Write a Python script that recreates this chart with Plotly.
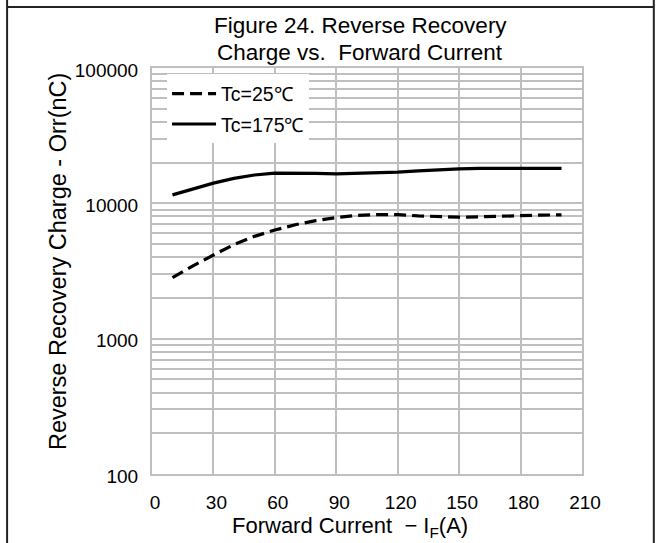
import plotly.graph_objects as go

# Forward current (A)
current_a = [10, 20, 30, 40, 50, 60, 70, 80, 90, 100,
             110, 120, 130, 140, 150, 160, 170, 180, 190, 200]

# Reverse recovery charge Qrr (nC) at Tc = 25 °C
qrr_25c = [2820, 3450, 4150, 4950, 5700, 6350, 6950, 7450, 7850, 8150,
           8270, 8250, 8080, 7950, 7900, 7950, 8050, 8120, 8180, 8220]

# Reverse recovery charge Qrr (nC) at Tc = 175 °C
qrr_175c = [11550, 12800, 14100, 15300, 16200, 16700, 16750, 16650, 16500, 16600,
            16800, 17000, 17400, 17800, 18000, 18100, 18200, 18200, 18150, 18100]

series_names = ["Tc=25℃", "Tc=175℃"]

x_ticks = [0, 30, 60, 90, 120, 150, 180, 210]
y_ticks = [100, 1000, 10000, 100000]
y_tick_labels = ["100", "1000", "10000", "100000"]

FONT = "Arial, 'Liberation Sans', sans-serif"
GRID = "#BFBFBF"

fig = go.Figure()
fig.add_trace(go.Scatter(
    x=current_a, y=qrr_25c, name=series_names[0], mode="lines", legendgroup="a",
    line=dict(color="black", width=3.2, dash="12px,6px"),
))
fig.add_trace(go.Scatter(
    x=current_a, y=qrr_175c, name=series_names[1], mode="lines", legendgroup="b",
    line=dict(color="black", width=3.2),
))

fig.update_layout(
    width=656, height=543,
    margin=dict(l=152, r=74, t=68, b=69),
    paper_bgcolor="white", plot_bgcolor="white",
    font=dict(family=FONT, color="black", size=19),
    showlegend=True,
    legend=dict(
        x=0.035, y=0.984, xanchor="left", yanchor="top",
        bgcolor="white", borderwidth=0,
        font=dict(size=19.5, family=FONT),
        tracegroupgap=2, itemwidth=44,
    ),
    xaxis=dict(
        range=[0, 210], tickvals=x_ticks,
        showgrid=True, gridcolor=GRID, gridwidth=2,
        zeroline=False, showline=True, linecolor=GRID, linewidth=2, mirror=True,
        ticks="outside", ticklen=10, tickcolor="rgba(0,0,0,0)",
        ticklabelshift=3, tickfont=dict(size=19),
    ),
    yaxis=dict(
        type="log", range=[2, 5], tickvals=y_ticks, ticktext=y_tick_labels,
        showgrid=True, gridcolor=GRID, gridwidth=2,
        minor=dict(showgrid=True, gridcolor=GRID, gridwidth=2,
                   tickvals=[m * 10 ** e for e in (2, 3, 4) for m in range(2, 10)]),
        zeroline=False, showline=True, linecolor=GRID, linewidth=2, mirror=True,
        ticks="outside", ticklen=8, tickcolor="rgba(0,0,0,0)",
        ticklabelshift=2, tickfont=dict(size=19),
    ),
    annotations=[
        dict(text="Figure 24. Reverse Recovery",
             xref="paper", yref="paper", x=0.484, y=1.104,
             xanchor="center", yanchor="middle", showarrow=False,
             font=dict(size=22.5, family=FONT)),
        dict(text="Charge vs.  Forward Current",
             xref="paper", yref="paper", x=0.484, y=1.038,
             xanchor="center", yanchor="middle", showarrow=False,
             font=dict(size=22.5, family=FONT)),
        dict(text="Forward Current  − I<sub>F</sub>(A)",
             xref="paper", yref="paper", x=0.46, y=-0.1305,
             xanchor="center", yanchor="middle", showarrow=False,
             font=dict(size=22, family=FONT)),
        dict(text="Reverse Recovery Charge - Orr(nC)",
             xref="paper", yref="paper", x=-0.2186, y=0.522, textangle=-90,
             xanchor="center", yanchor="middle", showarrow=False,
             font=dict(size=23.5, family=FONT)),
    ],
    shapes=[
        # outer frame of the figure cell
        dict(type="line", xref="paper", yref="paper", x0=-0.337, x1=1.167, y0=1.150, y1=1.150,
             line=dict(color="#222222", width=2)),
        dict(type="line", xref="paper", yref="paper", x0=-0.337, x1=-0.337, y0=1.17, y1=-0.18,
             line=dict(color="#222222", width=2)),
        dict(type="line", xref="paper", yref="paper", x0=1.167, x1=1.167, y0=1.17, y1=-0.18,
             line=dict(color="#222222", width=2)),
    ],
)

fig.write_html("out.html")
